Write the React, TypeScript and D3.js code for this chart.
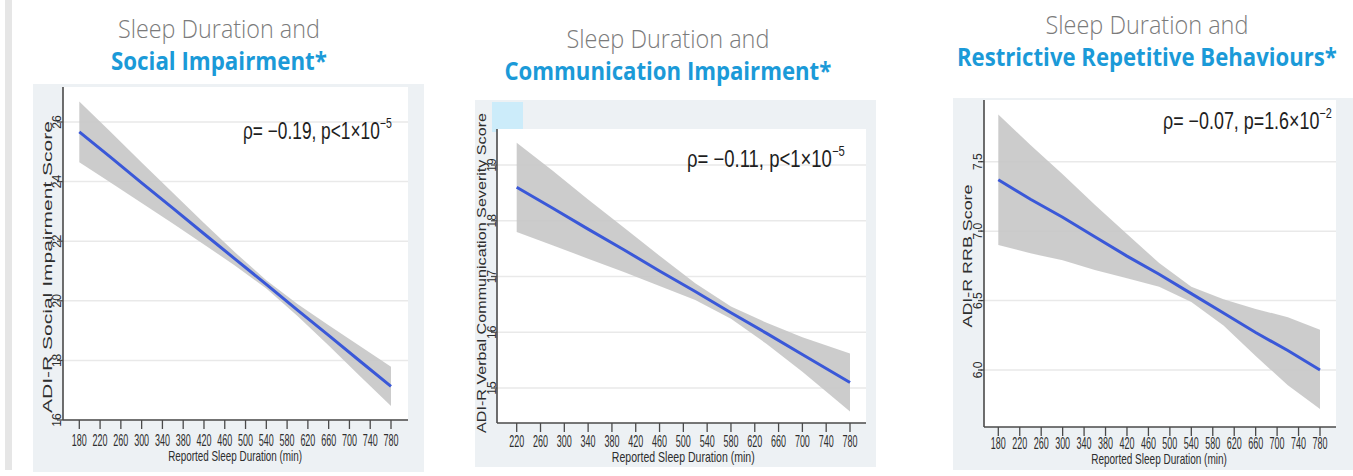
import { useLayoutEffect, useRef } from 'react';
import * as d3 from 'd3';

const W = 1353;
const H = 476;

// ---- data ----
const durationTicksFrom180 = [180, 220, 260, 300, 340, 380, 420, 460, 500, 540, 580, 620, 660, 700, 740, 780];
const durationTicksFrom220 = [220, 260, 300, 340, 380, 420, 460, 500, 540, 580, 620, 660, 700, 740, 780];

// Social impairment
const socialX = [180, 240, 300, 360, 420, 480, 540, 600, 660, 720, 780];
const socialFit = [25.67, 24.82, 23.96, 23.11, 22.25, 21.4, 20.55, 19.69, 18.84, 17.98, 17.13];
const socialUpper = [26.69, 25.67, 24.64, 23.63, 22.61, 21.62, 20.69, 19.89, 19.18, 18.48, 17.79];
const socialLower = [24.65, 23.97, 23.28, 22.59, 21.89, 21.18, 20.41, 19.49, 18.5, 17.48, 16.47];
const socialYTicks = [16, 18, 20, 22, 24, 26];

// Communication impairment
const commX = [220, 280, 340, 400, 460, 520, 580, 640, 700, 780];
const commFit = [18.6, 18.23, 17.85, 17.48, 17.1, 16.73, 16.35, 15.98, 15.6, 15.1];
const commUpper = [19.4, 18.9, 18.38, 17.88, 17.37, 16.88, 16.46, 16.17, 15.91, 15.62];
const commLower = [17.8, 17.56, 17.32, 17.08, 16.83, 16.58, 16.24, 15.79, 15.29, 14.58];
const commYTicks = [15, 16, 17, 18, 19];

// Restrictive repetitive behaviours
const rrbX = [180, 240, 300, 360, 420, 480, 540, 600, 660, 720, 780];
const rrbFit = [7.37, 7.23, 7.1, 6.96, 6.82, 6.69, 6.55, 6.41, 6.27, 6.14, 6.0];
const rrbUpper = [7.84, 7.62, 7.41, 7.19, 6.98, 6.77, 6.6, 6.51, 6.44, 6.38, 6.29];
const rrbLower = [6.9, 6.84, 6.79, 6.72, 6.66, 6.6, 6.49, 6.32, 6.1, 5.89, 5.72];
const rrbYTicks = [6.0, 6.5, 7.0, 7.5];

const titleTop = 'Sleep Duration and';
const titlesBottom = ['Social Impairment*', 'Communication Impairment*', 'Restrictive Repetitive Behaviours*'];
const yTitles = ['ADI-R Social Impairment Score', 'ADI-R Verbal Communication Severity Score', 'ADI-R RRB Score'];
const xTitle = 'Reported Sleep Duration (min)';
const statMain = ['ρ= −0.19, p<1×10', 'ρ= −0.11, p<1×10', 'ρ= −0.07, p=1.6×10'];
const statExp = ['−5', '−5', '−2'];

const BLUE_TITLE = '#1b9ad8';
const GREY_TITLE = '#7b7b7b';
const BG = '#edf1f4';
const LINE = '#3a58d8';
const BAND = '#c6c6c6';
const AXIS = '#4a4a4a';
const NARROW = "'Liberation Sans Narrow', 'Arial Narrow', 'Liberation Sans', sans-serif";
const SANS = "'Liberation Sans', Arial, sans-serif";
const TITLE_FONT = "'Open Sans', 'Noto Sans', sans-serif";

interface PanelCfg {
  idx: number;
  xs: number[];
  fit: number[];
  upper: number[];
  lower: number[];
  xTicks: number[];
  yTicks: number[];
  yFmt: (v: number) => string;
  bg: [number, number, number, number];
  plot: [number, number, number, number]; // left, top, right, bottom(x-axis)
  xRange: [number, number];
  yDom: [number, number];
  yRng: [number, number];
  tickBase: number;
  tickW: number;
  xTitleBase: number;
  xTitleW: number;
  yLabelX: number;
  yTitleX: number;
  yTitleMid: number;
  yTitleW: number;
  stat: [number, number, number]; // x0, baseline, width
  titleX: number;
  titleBase: [number, number];
  titleW: [number, number];
}

const panels: PanelCfg[] = [
  {
    idx: 0, xs: socialX, fit: socialFit, upper: socialUpper, lower: socialLower,
    xTicks: durationTicksFrom180, yTicks: socialYTicks, yFmt: d => String(d),
    bg: [33, 84, 424, 472], plot: [63, 87, 408, 420],
    xRange: [79.3, 391], yDom: [16, 26], yRng: [420, 122],
    tickBase: 446, tickW: 15, xTitleBase: 461, xTitleW: 134,
    yLabelX: 61, yTitleX: 52, yTitleMid: 267, yTitleW: 292,
    stat: [243, 139, 149],
    titleX: 219, titleBase: [38, 70], titleW: [202, 216],
  },
  {
    idx: 1, xs: commX, fit: commFit, upper: commUpper, lower: commLower,
    xTicks: durationTicksFrom220, yTicks: commYTicks, yFmt: d => String(d),
    bg: [475, 100, 876, 467], plot: [497, 129, 866, 423],
    xRange: [516.7, 850], yDom: [15, 19], yRng: [388, 165],
    tickBase: 447, tickW: 15, xTitleBase: 462, xTitleW: 143,
    yLabelX: 496, yTitleX: 486, yTitleMid: 273, yTitleW: 320,
    stat: [687, 167, 158],
    titleX: 668, titleBase: [48, 80], titleW: [203, 327],
  },
  {
    idx: 2, xs: rrbX, fit: rrbFit, upper: rrbUpper, lower: rrbLower,
    xTicks: durationTicksFrom180, yTicks: rrbYTicks, yFmt: d => d.toFixed(1),
    bg: [953, 98, 1353, 470], plot: [984, 100, 1336, 427],
    xRange: [998.3, 1320], yDom: [6.0, 7.5], yRng: [370, 161.7],
    tickBase: 449, tickW: 15, xTitleBase: 464, xTitleW: 136,
    yLabelX: 982, yTitleX: 972, yTitleMid: 256, yTitleW: 143,
    stat: [1163, 129, 169],
    titleX: 1147, titleBase: [34, 66], titleW: [203, 380],
  },
];

// A group whose text is squeezed horizontally to a target width once laid out.
function Fit({ x, y, w, anchor = 'start', children }: { x: number; y: number; w: number; anchor?: string; children: any }) {
  return (
    <g className="fit" data-x={x} data-y={y} data-w={w} data-anchor={anchor} transform={`translate(${x},${y})`}>
      {children}
    </g>
  );
}

function Panel({ cfg }: { cfg: PanelCfg }) {
  const x = d3.scaleLinear().domain([cfg.xTicks[0], cfg.xTicks[cfg.xTicks.length - 1]]).range(cfg.xRange);
  const y = d3.scaleLinear().domain(cfg.yDom).range(cfg.yRng);
  const [pl, pt, pr, pb] = cfg.plot;
  const idxs = cfg.xs.map((_, i) => i);

  const area = d3.area<number>()
    .x(i => x(cfg.xs[i]))
    .y0(i => y(cfg.lower[i]))
    .y1(i => y(cfg.upper[i]));
  const line = d3.line<number>()
    .x(i => x(cfg.xs[i]))
    .y(i => y(cfg.fit[i]));

  const [bx0, by0, bx1, by1] = cfg.bg;
  const xMid = (cfg.xRange[0] + cfg.xRange[1]) / 2;

  return (
    <g>
      <rect x={bx0} y={by0} width={bx1 - bx0} height={by1 - by0} fill={BG} />
      {cfg.idx === 1 && <rect x={492} y={102} width={31} height={30} fill="#ccecfa" />}
      <rect x={pl} y={pt} width={pr - pl} height={pb - pt} fill="#ffffff" />

      {cfg.yTicks.map(t => (
        <line key={'g' + t} x1={pl} x2={pr} y1={y(t)} y2={y(t)} stroke="#e9e9e9" strokeWidth={1.5} />
      ))}

      <path d={area(idxs) || ''} fill={BAND} opacity={0.9} />
      <path d={line(idxs) || ''} fill="none" stroke={LINE} strokeWidth={3} />

      {/* axes */}
      <line x1={pl} x2={pl} y1={pt} y2={pb} stroke={AXIS} strokeWidth={1.6} />
      <line x1={pl} x2={pr} y1={pb} y2={pb} stroke={AXIS} strokeWidth={1.6} />
      {cfg.xTicks.map(t => (
        <g key={'x' + t}>
          <line x1={x(t)} x2={x(t)} y1={pb} y2={pb + 9} stroke={AXIS} strokeWidth={1.3} />
          <Fit x={x(t)} y={cfg.tickBase} w={cfg.tickW} anchor="middle">
            <text x={0} y={0} fontFamily={NARROW} fontSize={17} fill="#2e2e2e">{t}</text>
          </Fit>
        </g>
      ))}
      {cfg.yTicks.map(t => (
        <g key={'y' + t}>
          <line x1={pl - 6} x2={pl} y1={y(t)} y2={y(t)} stroke={AXIS} strokeWidth={1.3} />
          <text transform={`translate(${cfg.yLabelX},${y(t)}) rotate(-90)`} textAnchor="middle"
            fontFamily={SANS} fontSize={12} fill="#2e2e2e">{cfg.yFmt(t)}</text>
        </g>
      ))}
      <Fit x={xMid} y={cfg.xTitleBase} w={cfg.xTitleW} anchor="middle">
        <text x={0} y={0} fontFamily={NARROW} fontSize={14} fill="#2e2e2e">{xTitle}</text>
      </Fit>
      <text transform={`translate(${cfg.yTitleX},${cfg.yTitleMid}) rotate(-90)`} textAnchor="middle"
        fontFamily={SANS} fontSize={13} fill="#2e2e2e"
        textLength={cfg.yTitleW} lengthAdjust="spacingAndGlyphs">{yTitles[cfg.idx]}</text>

      {/* statistic annotation */}
      <Fit x={cfg.stat[0]} y={cfg.stat[1]} w={cfg.stat[2]}>
        <text x={0} y={0} fontFamily={NARROW} fontSize={23} fill="#1e1e1e">
          {statMain[cfg.idx]}
          <tspan fontSize={14} dy={-11}>{statExp[cfg.idx]}</tspan>
        </text>
      </Fit>

      {/* titles */}
      <Fit x={cfg.titleX} y={cfg.titleBase[0]} w={cfg.titleW[0]} anchor="middle">
        <text x={0} y={0} fontFamily={TITLE_FONT} fontWeight={300} fontSize={26} fill={GREY_TITLE}>{titleTop}</text>
      </Fit>
      <Fit x={cfg.titleX} y={cfg.titleBase[1]} w={cfg.titleW[1]} anchor="middle">
        <text x={0} y={0} fontFamily={TITLE_FONT} fontWeight={700} fontSize={25} fill={BLUE_TITLE}>{titlesBottom[cfg.idx]}</text>
      </Fit>
    </g>
  );
}

export default function App() {
  const svgRef = useRef<SVGSVGElement>(null);

  useLayoutEffect(() => {
    if (!svgRef.current) return;
    d3.select(svgRef.current).selectAll<SVGGElement, unknown>('g.fit').each(function () {
      const g = this;
      const txt = g.querySelector('text') as SVGTextElement;
      const bb = txt.getBBox();
      const x0 = +(g.getAttribute('data-x') || 0);
      const y0 = +(g.getAttribute('data-y') || 0);
      const w = +(g.getAttribute('data-w') || 1);
      const mid = g.getAttribute('data-anchor') === 'middle';
      const s = bb.width > 0 ? w / bb.width : 1;
      const tx = mid ? x0 - (bb.x + bb.width / 2) * s : x0 - bb.x * s;
      g.setAttribute('transform', `translate(${tx},${y0}) scale(${s},1)`);
    });
  }, []);

  return (
    <svg ref={svgRef} width={W} height={H} viewBox={`0 0 ${W} ${H}`}
      style={{ position: 'absolute', left: 0, top: 0, display: 'block', background: '#ffffff' }}>
      <rect x={5} y={0} width={7} height={470} fill="#e6e6e6" />
      {panels.map(p => <Panel key={p.idx} cfg={p} />)}
    </svg>
  );
}
